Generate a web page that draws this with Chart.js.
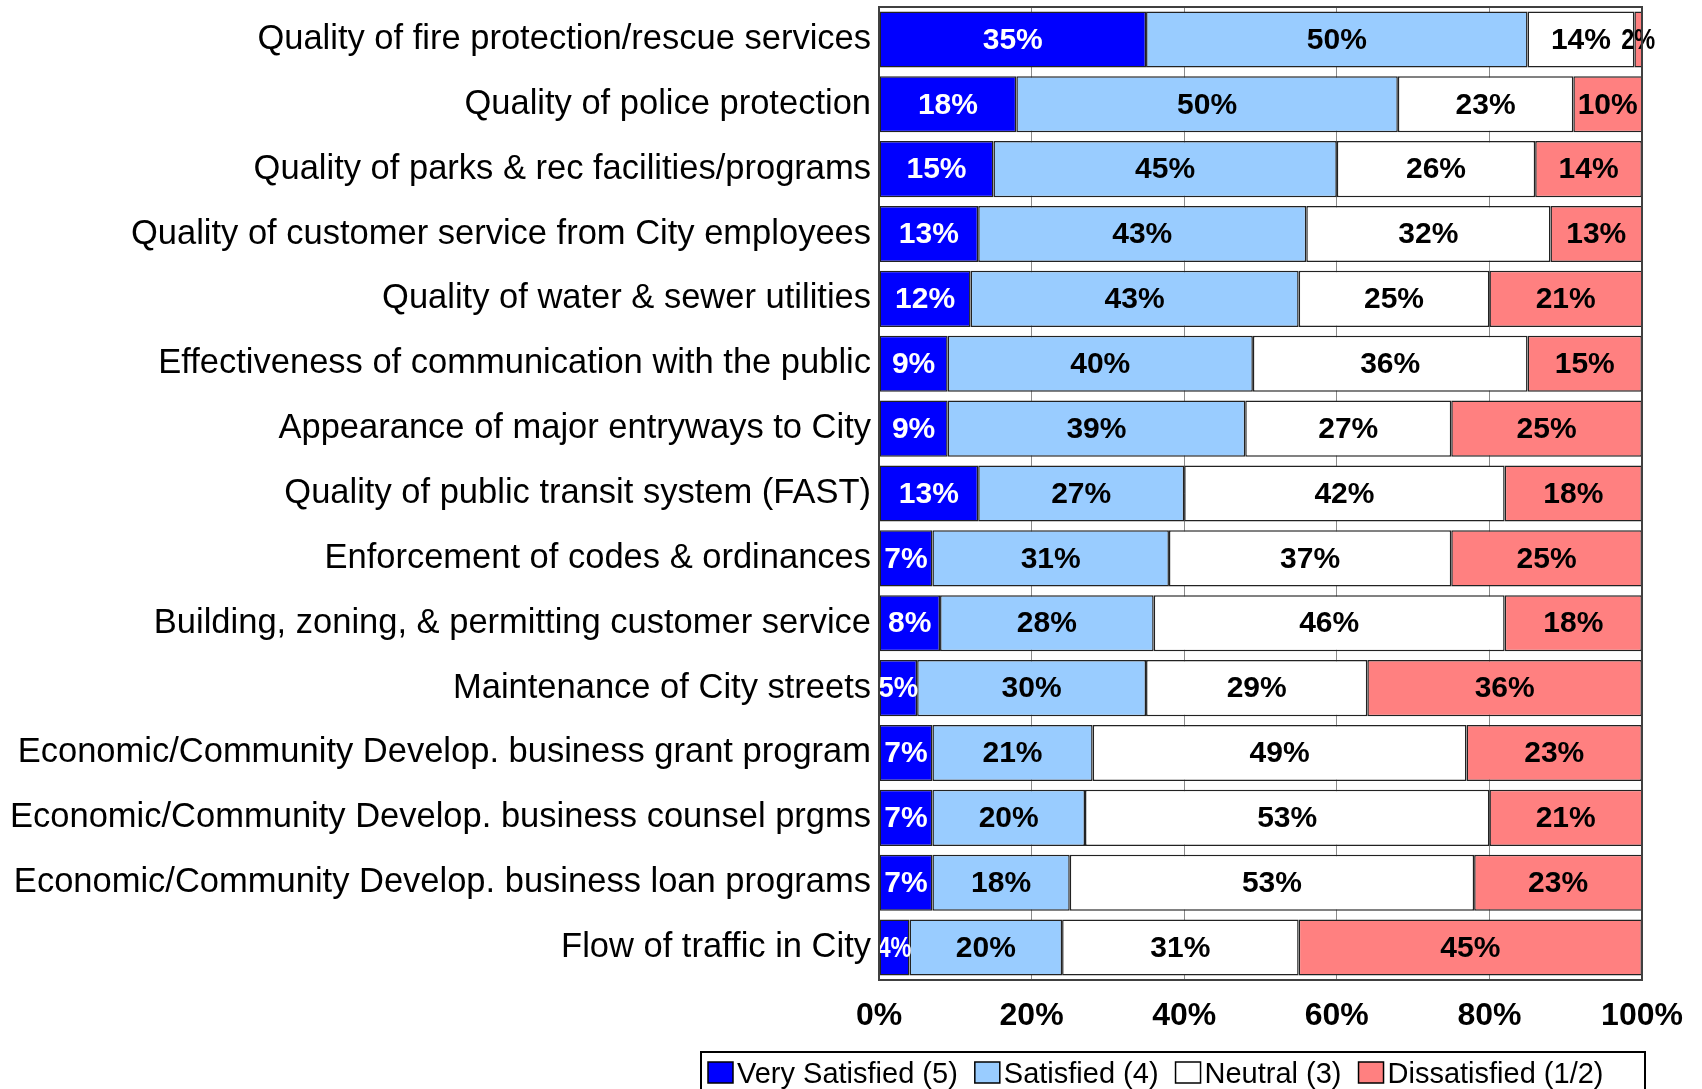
<!DOCTYPE html>
<html>
<head>
<meta charset="utf-8">
<title>Satisfaction with City services</title>
<script src="https://cdn.jsdelivr.net/npm/chart.js@4.4.0/dist/chart.umd.min.js"></script>
<style>
  html, body { margin: 0; padding: 0; background: #ffffff; }
  #wrap { width: 1702px; height: 1089px; }
</style>
</head>
<body>
<div id="wrap"><canvas id="satisfactionChart" width="1702" height="1089"></canvas></div>
<script>
const categories = [
  "Quality of fire protection/rescue services",
  "Quality of police protection",
  "Quality of parks & rec facilities/programs",
  "Quality of customer service from City employees",
  "Quality of water & sewer utilities",
  "Effectiveness of communication with the public",
  "Appearance of major entryways to City",
  "Quality of public transit system (FAST)",
  "Enforcement of codes & ordinances",
  "Building, zoning, & permitting customer service",
  "Maintenance of City streets",
  "Economic/Community Develop. business grant program",
  "Economic/Community Develop. business counsel prgms",
  "Economic/Community Develop. business loan programs",
  "Flow of traffic in City",
];
const verySatisfied = [35, 18, 15, 13, 12, 9, 9, 13, 7, 8, 5, 7, 7, 7, 4];
const satisfied = [50, 50, 45, 43, 43, 40, 39, 27, 31, 28, 30, 21, 20, 18, 20];
const neutral = [14, 23, 26, 32, 25, 36, 27, 42, 37, 46, 29, 49, 53, 53, 31];
const dissatisfied = [2, 10, 14, 13, 21, 15, 25, 18, 25, 18, 36, 23, 21, 23, 45];
const seriesNames = ["Very Satisfied (5)", "Satisfied (4)", "Neutral (3)", "Dissatisfied (1/2)"];
const xTicks = [0, 20, 40, 60, 80, 100];

const seriesColors = ["#0000FF", "#99CCFF", "#FFFFFF", "#FF8080"];
const valueColors = ["#FFFFFF", "#000000", "#000000", "#000000"];
const fontName = "'Liberation Sans', Arial, sans-serif";

// percent labels in the middle of every segment
const segmentLabels = {
  id: "segmentLabels",
  afterDatasetsDraw(chart) {
    const ctx = chart.ctx;
    const area = chart.chartArea;
    ctx.save();
    ctx.font = "bold 30px " + fontName;
    ctx.textAlign = "center";
    ctx.textBaseline = "middle";
    chart.data.datasets.forEach((dataset, i) => {
      const meta = chart.getDatasetMeta(i);
      meta.data.forEach((bar, j) => {
        const value = dataset.data[j];
        if (!value) return;
        const left = Math.min(bar.base, bar.x);
        const right = Math.min(Math.max(bar.base, bar.x), area.right);
        const text = value + "%";
        const maxWidth = Math.max(right - left + 2, 34);
        ctx.fillStyle = valueColors[i];
        ctx.fillText(text, (left + right) / 2, bar.y + 1, maxWidth);
      });
    });
    ctx.restore();
  },
};

// dark frame round the plot and the boxed legend below the axis
const frameAndLegend = {
  id: "frameAndLegend",
  afterDraw(chart) {
    const ctx = chart.ctx;
    const area = chart.chartArea;
    ctx.save();
    ctx.strokeStyle = "#404040";
    ctx.lineWidth = 2;
    ctx.strokeRect(area.left, area.top, area.right - area.left, area.bottom - area.top);

    const boxRight = area.right + 3;
    const boxLeft = boxRight - 944;
    const boxTop = 1052;
    ctx.lineWidth = 2;
    ctx.strokeStyle = "#000000";
    ctx.strokeRect(boxLeft, boxTop, boxRight - boxLeft, 60);

    ctx.font = "29px " + fontName;
    ctx.textAlign = "left";
    ctx.textBaseline = "alphabetic";
    let x = boxLeft + 7;
    seriesNames.forEach((name, i) => {
      ctx.fillStyle = seriesColors[i];
      ctx.fillRect(x, 1062, 25, 21);
      ctx.lineWidth = 1.5;
      ctx.strokeStyle = "#000000";
      ctx.strokeRect(x, 1062, 25, 21);
      ctx.fillStyle = "#000000";
      ctx.fillText(name, x + 29, 1083);
      x += 29 + ctx.measureText(name).width + 17;
    });
    ctx.restore();
  },
};

const datasets = [verySatisfied, satisfied, neutral, dissatisfied].map((values, i) => ({
  label: seriesNames[i],
  data: values,
  backgroundColor: seriesColors[i],
  borderColor: "#222222",
  borderWidth: 1.5,
  borderSkipped: false,
  barPercentage: 0.865,
  categoryPercentage: 1,
}));

new Chart(document.getElementById("satisfactionChart").getContext("2d"), {
  type: "bar",
  data: {
    labels: categories,
    datasets: datasets,
  },
  options: {
    indexAxis: "y",
    responsive: false,
    animation: false,
    layout: {
      padding: { top: 7, right: 60, bottom: 0, left: 0 },
    },
    scales: {
      x: {
        stacked: true,
        min: 0,
        max: 100,
        afterBuildTicks: (scale) => {
          scale.ticks = xTicks.map((v) => ({ value: v }));
        },
        afterFit: (scale) => {
          scale.height = 109;
        },
        grid: {
          color: "#8a8a8a",
          lineWidth: 1,
          drawTicks: false,
        },
        border: { display: false },
        ticks: {
          padding: 17,
          color: "#000000",
          font: { family: fontName, size: 32, weight: "bold" },
          callback: (value) => value + "%",
        },
      },
      y: {
        stacked: true,
        afterFit: (scale) => {
          scale.width = 879;
          // labels sit inside their bands, no extra room needed above/below
          scale.paddingTop = 0;
          scale.paddingBottom = 0;
        },
        grid: { display: false, drawTicks: false },
        border: { display: false },
        ticks: {
          padding: 8,
          color: "#000000",
          font: { family: fontName, size: 34.5 },
        },
      },
    },
    plugins: {
      legend: { display: false },
      tooltip: { enabled: false },
    },
  },
  plugins: [segmentLabels, frameAndLegend],
});
</script>
</body>
</html>
